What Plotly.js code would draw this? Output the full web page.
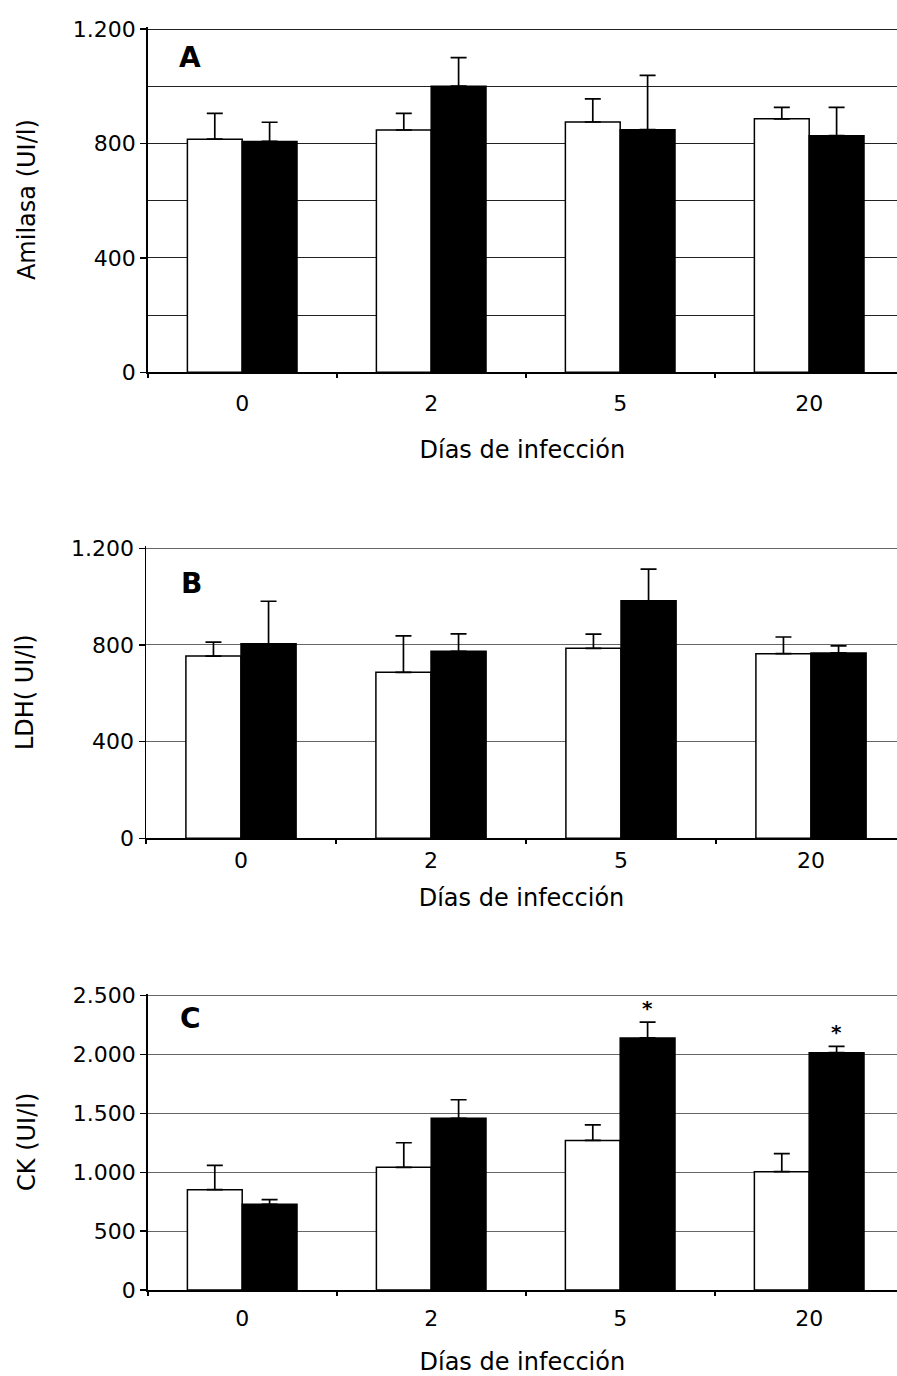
<!DOCTYPE html>
<html>
<head>
<meta charset="utf-8">
<script src="https://cdn.plot.ly/plotly-3.0.1.min.js"></script>
<style>html,body{margin:0;padding:0;background:#fff;}#chart{width:897px;height:1376px;}</style>
</head>
<body>
<div id="chart"></div>
<script>
// Categories (days of infection)
const cats = ['0', '2', '5', '20'];

// Panel A: Amilasa (UI/l)
const amyCtrl = [815, 847, 875, 886];
const amyCtrlErr = [90, 58, 81, 40];
const amyInf = [807, 1000, 848, 827];
const amyInfErr = [67, 100, 190, 99];

// Panel B: LDH (UI/l)
const ldhCtrl = [754, 687, 786, 764];
const ldhCtrlErr = [58, 151, 59, 69];
const ldhInf = [805, 774, 983, 767];
const ldhInfErr = [176, 72, 131, 29];

// Panel C: CK (UI/l)
const ckCtrl = [852, 1042, 1271, 1005];
const ckCtrlErr = [207, 209, 131, 153];
const ckInf = [728, 1458, 2141, 2016];
const ckInfErr = [39, 158, 135, 54];
const ckSig = ['', '', '*', '*'];

const panelLetters = ['A', 'B', 'C'];
const xTitle = 'Días de infección';
const yTitles = ['Amilasa (UI/l)', 'LDH( UI/l)', 'CK (UI/l)'];

function bars(vals, errs, color, xa, ya, name) {
  return {
    type: 'bar', x: cats, y: vals, name: name, xaxis: xa, yaxis: ya,
    marker: {color: color, line: {color: '#000', width: 1.5}},
    error_y: {type: 'data', array: errs, arrayminus: errs.map(() => 0), symmetric: false,
              color: '#000', thickness: 1.7, width: 8},
    hoverinfo: 'x+y'
  };
}

const data = [
  bars(amyCtrl, amyCtrlErr, '#fff', 'x', 'y', 'Control'),
  bars(amyInf, amyInfErr, '#000', 'x', 'y', 'Infectados'),
  bars(ldhCtrl, ldhCtrlErr, '#fff', 'x2', 'y2', 'Control'),
  bars(ldhInf, ldhInfErr, '#000', 'x2', 'y2', 'Infectados'),
  bars(ckCtrl, ckCtrlErr, '#fff', 'x3', 'y3', 'Control'),
  bars(ckInf, ckInfErr, '#000', 'x3', 'y3', 'Infectados')
];

const FONT = 'DejaVu Sans, Liberation Sans, Arial, sans-serif';
const W = 897, H = 1376;
const px = v => v / W;
const py = v => 1 - v / H;
const HEAD = 2; // px of headroom so the gridline at the top value is drawn

function xax(left, right, anchor, labStand, titleStand) {
  return {
    type: 'category', domain: [px(left), 1], range: [-0.5, right], anchor: anchor,
    showline: true, linecolor: '#000', linewidth: 2,
    ticks: 'outside', tickson: 'boundaries', ticklen: 4, tickwidth: 2, tickcolor: '#000',
    showgrid: false, zeroline: false, ticklabelstandoff: labStand,
    tickfont: {family: FONT, size: 22, color: '#000'},
    title: {text: xTitle, standoff: titleStand, font: {family: FONT, size: 24, color: '#000'}},
    fixedrange: true
  };
}
function yax(top, bottom, anchor, maxv, dt, gridc, minorDt, ttl, tStand) {
  const span = bottom - top;
  const a = {
    domain: [py(bottom), py(top - HEAD)], range: [0, maxv * (1 + HEAD / span)], anchor: anchor,
    dtick: dt, tick0: 0, separatethousands: true,
    showline: true, linecolor: '#000', linewidth: 1.5,
    ticks: 'outside', ticklen: 6, tickwidth: 1.5, tickcolor: '#000',
    showgrid: true, gridcolor: gridc, gridwidth: 1, zeroline: false,
    tickfont: {family: FONT, size: 22, color: '#000'},
    title: {text: ttl, standoff: tStand, font: {family: FONT, size: 24, color: '#000'}},
    fixedrange: true
  };
  if (minorDt) a.minor = {dtick: minorDt, showgrid: true, gridcolor: gridc, gridwidth: 1, ticks: ''};
  return a;
}

const layout = {
  width: W, height: H,
  margin: {l: 0, r: 0, t: 0, b: 0},
  paper_bgcolor: '#fff', plot_bgcolor: '#fff',
  showlegend: false, barmode: 'group', bargap: 0.42, bargroupgap: 0,
  separators: ',.',
  font: {family: FONT, color: '#000', size: 22},
  xaxis: xax(147.7, 3.4646, 'y', 10, 26),
  yaxis: yax(29, 372.3, 'x', 1200, 400, '#222', 200, yTitles[0], 30),
  xaxis2: xax(146, 3.4526, 'y2', 1, 17),
  yaxis2: yax(548.3, 838.3, 'x2', 1200, 400, '#666', null, yTitles[1], 30),
  xaxis3: xax(147.7, 3.4646, 'y3', 8, 28),
  yaxis3: yax(995.7, 1290, 'x3', 2500, 500, '#666', null, yTitles[2], 30),
  annotations: []
};

const letterPos = [[190, 58], [191, 583], [190, 1018]];
panelLetters.forEach((t, i) => {
  layout.annotations.push({
    text: '<b>' + t + '</b>', xref: 'paper', yref: 'paper',
    x: px(letterPos[i][0]), y: py(letterPos[i][1]), xanchor: 'center', yanchor: 'middle',
    showarrow: false, font: {family: FONT, size: 28, color: '#000'}
  });
});
ckSig.forEach((s, i) => {
  if (!s) return;
  layout.annotations.push({
    text: '<b>' + s + '</b>', xref: 'x3', yref: 'y3', x: i, y: ckInf[i] + ckInfErr[i],
    xshift: 27, yshift: 14, xanchor: 'center', yanchor: 'middle', showarrow: false,
    font: {family: FONT, size: 20, color: '#000'}
  });
});

Plotly.newPlot('chart', data, layout, {displayModeBar: false, staticPlot: true});
</script>
</body>
</html>
